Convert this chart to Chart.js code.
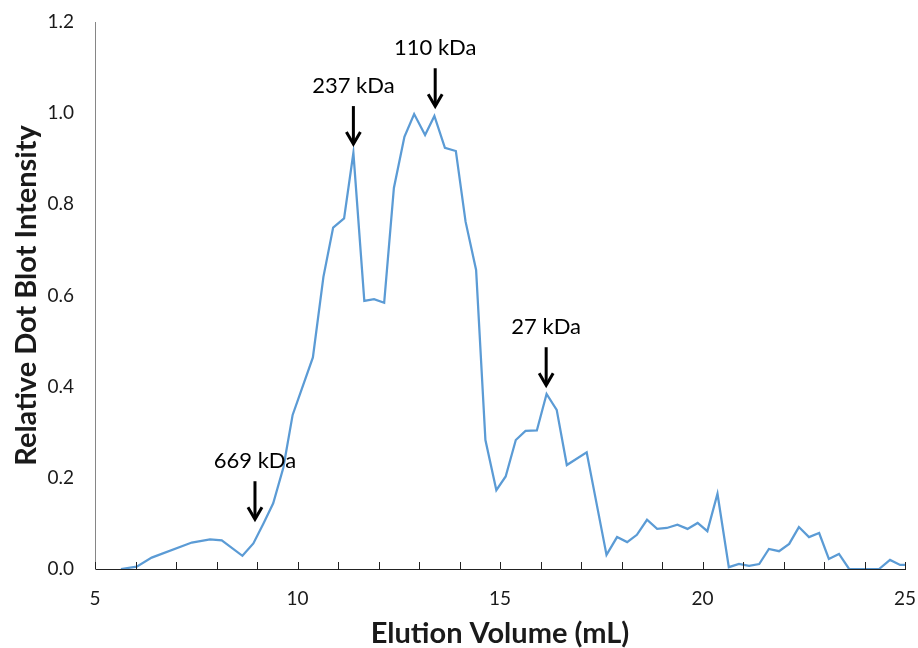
<!DOCTYPE html>
<html>
<head>
<meta charset="utf-8">
<script src="https://cdn.jsdelivr.net/npm/chart.js@4"></script>
<style>
  html, body { margin: 0; padding: 0; background: #fff; }
  #wrap { width: 918px; height: 648px; }
</style>
</head>
<body>
<div id="wrap"><canvas id="chart" width="918" height="648"></canvas></div>
<script>
// elution volume (mL) and relative intensity
const elution = [5.64, 6.03, 6.40, 7.39, 7.84, 8.13, 8.64, 8.91, 9.16, 9.40, 9.65, 9.88,
  10.38, 10.64, 10.88, 11.15, 11.38, 11.65, 11.89, 12.14, 12.38, 12.64, 12.88, 13.15,
  13.38, 13.64, 13.91, 14.15, 14.41, 14.64, 14.91, 15.14, 15.39, 15.63, 15.91, 16.15,
  16.40, 16.65, 17.14, 17.63, 17.89, 18.14, 18.38, 18.63, 18.88, 19.12, 19.38, 19.63,
  19.88, 20.12, 20.37, 20.65, 20.90, 21.15, 21.40, 21.64, 21.89, 22.14, 22.38, 22.63,
  22.88, 23.12, 23.37, 23.62, 23.86, 24.11, 24.36, 24.63, 24.88, 25.00];
const intensity = [0.000, 0.005, 0.025, 0.058, 0.065, 0.063, 0.029, 0.056, 0.100, 0.144, 0.222, 0.338,
  0.464, 0.641, 0.749, 0.769, 0.913, 0.588, 0.592, 0.584, 0.836, 0.948, 0.998, 0.952,
  0.994, 0.924, 0.917, 0.762, 0.656, 0.283, 0.173, 0.203, 0.283, 0.303, 0.304, 0.384,
  0.349, 0.228, 0.256, 0.031, 0.070, 0.059, 0.075, 0.108, 0.088, 0.090, 0.097, 0.088,
  0.101, 0.083, 0.165, 0.004, 0.011, 0.007, 0.011, 0.044, 0.039, 0.055, 0.092, 0.070,
  0.079, 0.022, 0.033, 0.000, 0.000, 0.000, 0.000, 0.020, 0.009, 0.009];

// size-standard markers (arrow tip in data units)
const markerLabels = ["669 kDa", "237 kDa", "110 kDa", "27 kDa"];
const markerX = [8.95, 11.38, 13.40, 16.14];
const markerY = [0.107, 0.930, 1.013, 0.401];

const points = elution.map((x, i) => ({ x: x, y: intensity[i] }));

const textColor = "#1a1a1a";
const fontFamily = "Lato, 'Open Sans', sans-serif";

// small tick marks pointing into the plot along the x axis
const innerTicks = {
  id: "innerTicks",
  afterDraw(chart) {
    const c = chart.ctx;
    const xs = chart.scales.x;
    c.save();
    c.strokeStyle = "#222";
    c.lineWidth = 1;
    xs.ticks.forEach(t => {
      const px = Math.round(xs.getPixelForValue(t.value)) + 0.5;
      c.beginPath();
      c.moveTo(px, xs.top);
      c.lineTo(px, xs.top - 7);
      c.stroke();
    });
    c.restore();
  }
};

// arrows with kDa labels
const markers = {
  id: "markers",
  afterDatasetsDraw(chart) {
    const c = chart.ctx;
    const xs = chart.scales.x, ys = chart.scales.y;
    c.save();
    c.strokeStyle = "#000";
    c.fillStyle = "#000";
    c.lineWidth = 3;
    c.font = "22px " + fontFamily;
    c.textAlign = "center";
    c.textBaseline = "middle";
    markerLabels.forEach((lab, i) => {
      const px = xs.getPixelForValue(markerX[i]);
      const py = ys.getPixelForValue(markerY[i]);
      c.beginPath();
      c.moveTo(px, py - 2);
      c.lineTo(px, py - 39);
      c.stroke();
      c.beginPath();
      c.moveTo(px - 7, py - 13);
      c.lineTo(px, py - 1);
      c.lineTo(px + 7, py - 13);
      c.stroke();
      c.fillText(lab, px, py - 59);
    });
    c.restore();
  }
};

new Chart(document.getElementById("chart"), {
  type: "line",
  data: {
    datasets: [{
      data: points,
      borderColor: "#5b9bd5",
      borderWidth: 2.25,
      pointRadius: 0,
      tension: 0,
      fill: false
    }]
  },
  options: {
    responsive: false,
    animation: false,
    parsing: false,
    layout: { padding: { left: 0, right: 13, top: 22, bottom: 0 } },
    plugins: { legend: { display: false }, tooltip: { enabled: false } },
    scales: {
      x: {
        type: "linear",
        min: 5,
        max: 25,
        afterFit: s => { s.height = 79; s.paddingLeft = 0; s.paddingRight = 0; },
        grid: { display: false, drawTicks: false },
        border: { display: true, color: "#222", width: 1 },
        ticks: {
          stepSize: 1,
          autoSkip: false,
          maxRotation: 0,
          padding: 18,
          color: textColor,
          font: { family: fontFamily, size: 19 },
          callback: v => (v % 5 === 0 ? v : "")
        },
        title: {
          display: true,
          text: "Elution Volume (mL)",
          color: textColor,
          font: { family: fontFamily, size: 29, weight: "bold", lineHeight: 1 },
          padding: { top: 0, bottom: 0 }
        }
      },
      y: {
        min: 0,
        max: 1.2,
        afterFit: s => { s.width = 95; s.paddingTop = 0; s.paddingBottom = 0; },
        grid: { display: false, drawTicks: false },
        border: { display: true, color: "#868686", width: 1 },
        ticks: {
          stepSize: 0.2,
          padding: 21,
          color: textColor,
          font: { family: fontFamily, size: 19 },
          callback: v => v.toFixed(1)
        },
        title: {
          display: true,
          text: "Relative Dot Blot Intensity",
          color: textColor,
          font: { family: fontFamily, size: 29, weight: "bold", lineHeight: 1 },
          padding: { top: 12, bottom: 0 }
        }
      }
    }
  },
  plugins: [innerTicks, markers]
});
</script>
</body>
</html>
